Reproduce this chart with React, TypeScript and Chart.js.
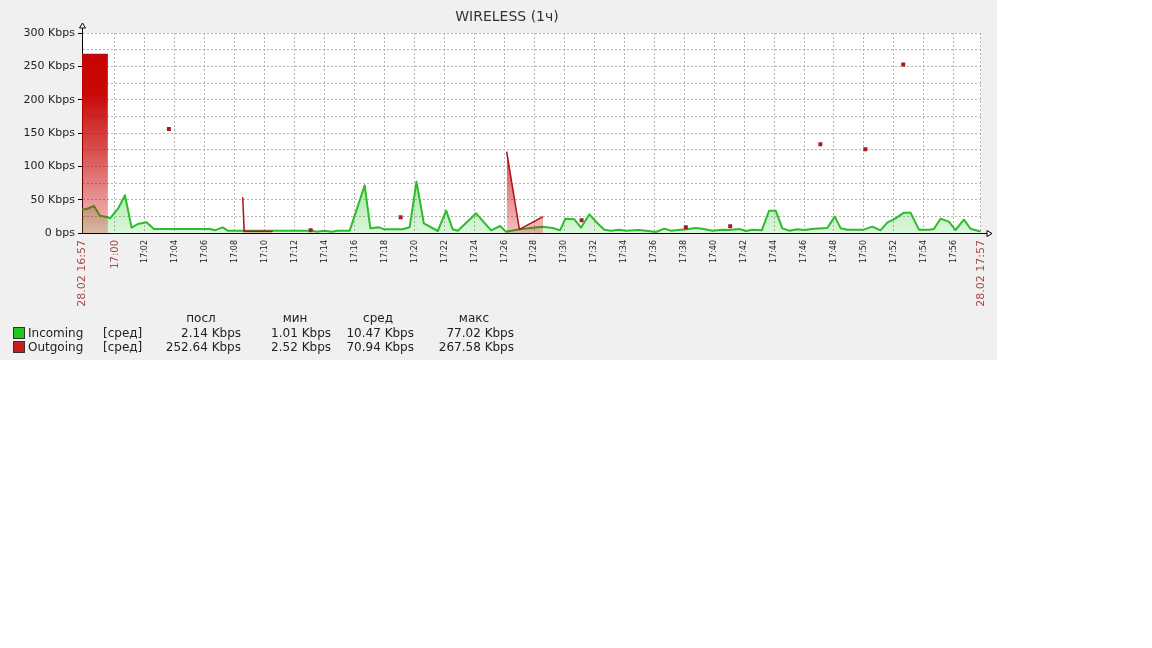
import React, { useEffect, useRef } from "react";
import { Chart, registerables } from "chart.js";

Chart.register(...registerables);

// ---- data (x = minutes after 17:00) ----
const incomingTimes = [
  -2.2, -1.89, -1.4, -1.0, -0.47, -0.33, 0.22, 0.67, 1.11, 1.53, 2.11, 2.6, 6.33, 6.67, 7.18, 7.53,
  13.2, 13.45, 14.0, 14.45, 14.87, 15.67, 16.67, 17.05, 17.62, 18.0, 19.2, 19.67, 20.13, 20.62,
  21.55, 22.11, 22.55, 22.89, 24.11, 25.11, 25.71, 26.11, 27.0, 28.53, 29.22, 29.71, 30.07, 30.67,
  31.11, 31.67, 32.11, 32.67, 33.11, 33.67, 34.11, 35.0, 35.45, 36.11, 36.67, 37.11, 38.11, 38.78,
  39.22, 39.89, 40.55, 41.0, 41.67, 42.11, 42.55, 43.18, 43.67, 44.11, 44.55, 45.0, 45.55, 46.0,
  46.67, 47.55, 48.05, 48.45, 48.89, 50.0, 50.55, 51.11, 51.55, 52.11, 52.67, 53.11, 53.67, 54.33,
  54.67, 55.11, 55.67, 56.11, 56.67, 57.11, 57.67, 57.8,
];
const incomingValues = [
  35.5, 36, 40.5, 26, 23.5, 22, 37, 56.5, 8, 13.5, 16, 6, 6, 4, 8.5, 3.5,
  3.5, 2, 3.5, 2, 3.5, 3.5, 71.5, 7, 8.5, 5.5, 5.5, 8.5, 77, 14.5,
  3, 33.5, 5.5, 3.5, 29.5, 4, 10.5, 2, 5.5, 9.5, 7.5, 4, 21.5, 20.5,
  8, 28, 17, 5, 3.5, 5, 3.5, 4.5, 3.5, 1.5, 6.5, 3.5, 5.5, 7.5,
  6.5, 3.5, 5, 4.5, 6, 3, 5, 4, 33.5, 33.5, 7, 3.5, 5.5, 4.5,
  6.5, 7.5, 24.5, 7, 5, 5, 9.5, 4, 15.5, 22, 30.5, 30.5, 5, 5,
  6, 21.5, 17, 4.5, 20, 6.5, 3, 2.14,
];

// outgoing: separate runs of data (gaps between them)
const outgoingRunTimes = [
  [-2.2, -0.47], [3.6], [8.53, 8.63, 10.53], [13.07], [19.07], [26.15, 27.0, 28.58],
  [31.15], [38.11], [41.07], [47.09], [50.09], [52.62],
];
const outgoingRunValues = [
  [267.58, 267.58], [156], [53.5, 2.52, 2.52], [4], [23.5], [122, 5.5, 24.5],
  [19], [8.5], [10], [133], [125.5], [252.64],
];

const yTickValues = [0, 50, 100, 150, 200, 250, 300];
const yTickLabels = ["0 bps", "50 Kbps", "100 Kbps", "150 Kbps", "200 Kbps", "250 Kbps", "300 Kbps"];

const xTickValues = [
  -2.2, 0, 2, 4, 6, 8, 10, 12, 14, 16, 18, 20, 22, 24, 26, 28, 30, 32, 34, 36, 38, 40, 42, 44, 46,
  48, 50, 52, 54, 56, 57.8,
];
const xTickLabels = [
  "28.02 16:57", "17:00", "17:02", "17:04", "17:06", "17:08", "17:10", "17:12", "17:14", "17:16",
  "17:18", "17:20", "17:22", "17:24", "17:26", "17:28", "17:30", "17:32", "17:34", "17:36", "17:38",
  "17:40", "17:42", "17:44", "17:46", "17:48", "17:50", "17:52", "17:54", "17:56", "28.02 17:57",
];

const legendNames = ["Incoming", "Outgoing"];
const legendColors = ["#1ec81e", "#c81e1e"];
const legendFunc = ["[сред]", "[сред]"];
const legendHeaders = ["посл", "мин", "сред", "макс"];
const legendLast = ["2.14 Kbps", "252.64 Kbps"];
const legendMin = ["1.01 Kbps", "2.52 Kbps"];
const legendAvg = ["10.47 Kbps", "70.94 Kbps"];
const legendMax = ["77.02 Kbps", "267.58 Kbps"];

const FONT = "'DejaVu Sans', sans-serif";

function buildOutgoing() {
  const pts: { x: number; y: number | null }[] = [];
  outgoingRunTimes.forEach((run, r) => {
    run.forEach((t, i) => pts.push({ x: t, y: outgoingRunValues[r][i] }));
    if (r < outgoingRunTimes.length - 1) pts.push({ x: run[run.length - 1] + 0.01, y: null });
  });
  return pts;
}

const axisArrows = {
  id: "axisArrows",
  afterDraw(chart: any) {
    const { ctx, chartArea } = chart;
    const l = Math.round(chartArea.left) + 0.5;
    const b = Math.round(chartArea.bottom) + 0.5;
    const t = Math.round(chartArea.top);
    const r = Math.round(chartArea.right);
    ctx.save();
    ctx.strokeStyle = "#000";
    ctx.lineWidth = 1;
    ctx.fillStyle = "#fff";
    ctx.beginPath();
    ctx.moveTo(l, t);
    ctx.lineTo(l, t - 5);
    ctx.stroke();
    ctx.beginPath();
    ctx.moveTo(l - 3, t - 5);
    ctx.lineTo(l + 3, t - 5);
    ctx.lineTo(l, t - 10);
    ctx.closePath();
    ctx.fill();
    ctx.stroke();
    ctx.beginPath();
    ctx.moveTo(r, b);
    ctx.lineTo(r + 6, b);
    ctx.stroke();
    ctx.beginPath();
    ctx.moveTo(r + 6, b - 3);
    ctx.lineTo(r + 6, b + 3);
    ctx.lineTo(r + 11, b);
    ctx.closePath();
    ctx.fill();
    ctx.stroke();
    ctx.restore();
  },
};

export default function App() {
  const ref = useRef<HTMLCanvasElement | null>(null);

  useEffect(() => {
    if (!ref.current) return;
    const green = incomingTimes.map((t, i) => ({ x: t, y: incomingValues[i] }));
    const red = buildOutgoing();

    const isolatedRadius = (ctx: any) => {
      const d = ctx.dataset.data;
      const i = ctx.dataIndex;
      if (!d[i] || d[i].y == null) return 0;
      const prevGap = i === 0 || d[i - 1].y == null;
      const nextGap = i === d.length - 1 || d[i + 1].y == null;
      return prevGap && nextGap ? 2.8 : 0;
    };

    const chart = new Chart(ref.current, {
      type: "line",
      data: {
        datasets: [
          {
            label: "Outgoing",
            data: red as any,
            order: 0,
            borderColor: "#b0101a",
            borderWidth: 1.5,
            borderJoinStyle: "round",
            spanGaps: false,
            tension: 0,
            fill: "origin",
            backgroundColor: (c: any) => {
              const area = c.chart.chartArea;
              if (!area) return "rgba(200,0,0,0.5)";
              const g = c.chart.ctx.createLinearGradient(0, area.top, 0, area.bottom);
              g.addColorStop(0, "rgba(200,0,0,1)");
              g.addColorStop(0.3, "rgba(200,0,0,0.97)");
              g.addColorStop(0.6, "rgba(200,0,0,0.68)");
              g.addColorStop(0.85, "rgba(200,0,0,0.4)");
              g.addColorStop(1, "rgba(200,0,0,0.25)");
              return g;
            },
            pointStyle: "rect",
            pointRadius: isolatedRadius,
            pointHoverRadius: 0,
            pointBorderWidth: 0,
            pointBackgroundColor: "#a81c1c",
          },
          {
            label: "Incoming",
            data: green as any,
            order: 1,
            borderColor: "#2cbc2c",
            borderWidth: 2,
            borderJoinStyle: "round",
            tension: 0,
            fill: "origin",
            backgroundColor: (c: any) => {
              const area = c.chart.chartArea;
              if (!area) return "rgba(40,200,40,0.3)";
              const g = c.chart.ctx.createLinearGradient(0, area.top, 0, area.bottom);
              g.addColorStop(0, "rgba(40,200,40,0.75)");
              g.addColorStop(0.7, "rgba(40,200,40,0.45)");
              g.addColorStop(1, "rgba(40,200,40,0.16)");
              return g;
            },
            pointRadius: 0,
            pointHoverRadius: 0,
          },
        ],
      },
      options: {
        responsive: false,
        animation: false,
        devicePixelRatio: 1,
        events: [],
        layout: { padding: { top: 33, right: 15, left: 0, bottom: 0 } },
        plugins: { legend: { display: false }, title: { display: false }, tooltip: { enabled: false } },
        scales: {
          x: {
            type: "linear",
            min: -2.2,
            max: 57.8,
            afterBuildTicks: (scale: any) => {
              scale.ticks = xTickValues.map((v) => ({ value: v }));
            },
            afterFit: (scale: any) => {
              scale.height = 127;
            },
            border: { display: true, color: "#000", width: 1, dash: [2, 2] },
            grid: {
              color: (c: any) => (c.index === 0 ? "rgba(0,0,0,0)" : "#b4b4b4"),
              lineWidth: 1,
              drawTicks: true,
              tickLength: 4,
              tickColor: "rgba(0,0,0,0)",
            },
            ticks: {
              autoSkip: false,
              maxRotation: 90,
              minRotation: 90,
              padding: 3,
              callback: (_v: any, i: number) => xTickLabels[i],
              font: (c: any) => {
                const i = c.index;
                if (i === 0 || i === xTickValues.length - 1) return { family: FONT, size: 11 };
                if (i === 1) return { family: FONT, size: 10 };
                return { family: FONT, size: 8 };
              },
              color: (c: any) => {
                const i = c.index;
                if (i === 0 || i === 1 || i === xTickValues.length - 1) return "#a84848";
                return "#222";
              },
            },
          },
          y: {
            type: "linear",
            min: 0,
            max: 300,
            afterFit: (scale: any) => {
              scale.width = 82;
            },
            border: { display: true, color: "#000", width: 1, dash: [2, 2] },
            grid: {
              color: (c: any) => (c.tick && c.tick.value === 0 ? "rgba(0,0,0,0)" : "#b4b4b4"),
              lineWidth: 1,
              drawTicks: true,
              tickLength: 4,
              tickColor: (c: any) => (c.tick && c.tick.value % 50 === 0 ? "#000" : "rgba(0,0,0,0)"),
            },
            ticks: {
              stepSize: 25,
              autoSkip: false,
              padding: 3,
              callback: (v: any) => {
                const idx = yTickValues.indexOf(Number(v));
                return idx >= 0 ? yTickLabels[idx] : "";
              },
              font: { family: FONT, size: 11 },
              color: "#222",
            },
          },
        },
      },
      plugins: [
        {
          id: "plotBg",
          beforeDraw(chart: any) {
            const { ctx, chartArea } = chart;
            ctx.save();
            ctx.fillStyle = "#fff";
            ctx.fillRect(chartArea.left, chartArea.top, chartArea.right - chartArea.left, chartArea.bottom - chartArea.top);
            ctx.restore();
          },
        },
        axisArrows,
      ],
    } as any);
    return () => chart.destroy();
  }, []);

  const txt: React.CSSProperties = {
    position: "absolute",
    fontFamily: FONT,
    fontSize: 12,
    color: "#222",
    lineHeight: "14px",
    whiteSpace: "nowrap",
  };
  const valueRights = [241, 331, 414, 514];
  const headerCenters = [201, 295, 378, 474];
  const rowTops = [326, 340];
  const cols = [legendLast, legendMin, legendAvg, legendMax];

  return (
    <div style={{ position: "fixed", left: 0, top: 0, width: 1152, height: 648, background: "#fff" }}>
      <div style={{ position: "absolute", left: 0, top: 0, width: 997, height: 360, background: "#f0f0f0" }}>
        <canvas
          ref={ref}
          width={997}
          height={360}
          style={{ position: "absolute", left: 0, top: 0, width: 997, height: 360 }}
        />
        <div
          style={{
            ...txt,
            fontSize: 14,
            color: "#333",
            left: 0,
            width: 1014,
            top: 8,
            textAlign: "center",
            lineHeight: "16px",
          }}
        >
          WIRELESS (1ч)
        </div>
        {legendHeaders.map((h, i) => (
          <div key={h} style={{ ...txt, left: headerCenters[i] - 40, width: 80, textAlign: "center", top: 311 }}>
            {h}
          </div>
        ))}
        {legendNames.map((n, r) => (
          <React.Fragment key={n}>
            <div
              style={{
                position: "absolute",
                left: 13,
                top: rowTops[r] + 1,
                width: 10,
                height: 10,
                background: legendColors[r],
                border: "1px solid #333",
              }}
            />
            <div style={{ ...txt, left: 28, top: rowTops[r] }}>{n}</div>
            <div style={{ ...txt, left: 103, top: rowTops[r] }}>{legendFunc[r]}</div>
            {cols.map((col, c) => (
              <div
                key={c}
                style={{ ...txt, left: valueRights[c] - 120, width: 120, textAlign: "right", top: rowTops[r] }}
              >
                {col[r]}
              </div>
            ))}
          </React.Fragment>
        ))}
      </div>
    </div>
  );
}
